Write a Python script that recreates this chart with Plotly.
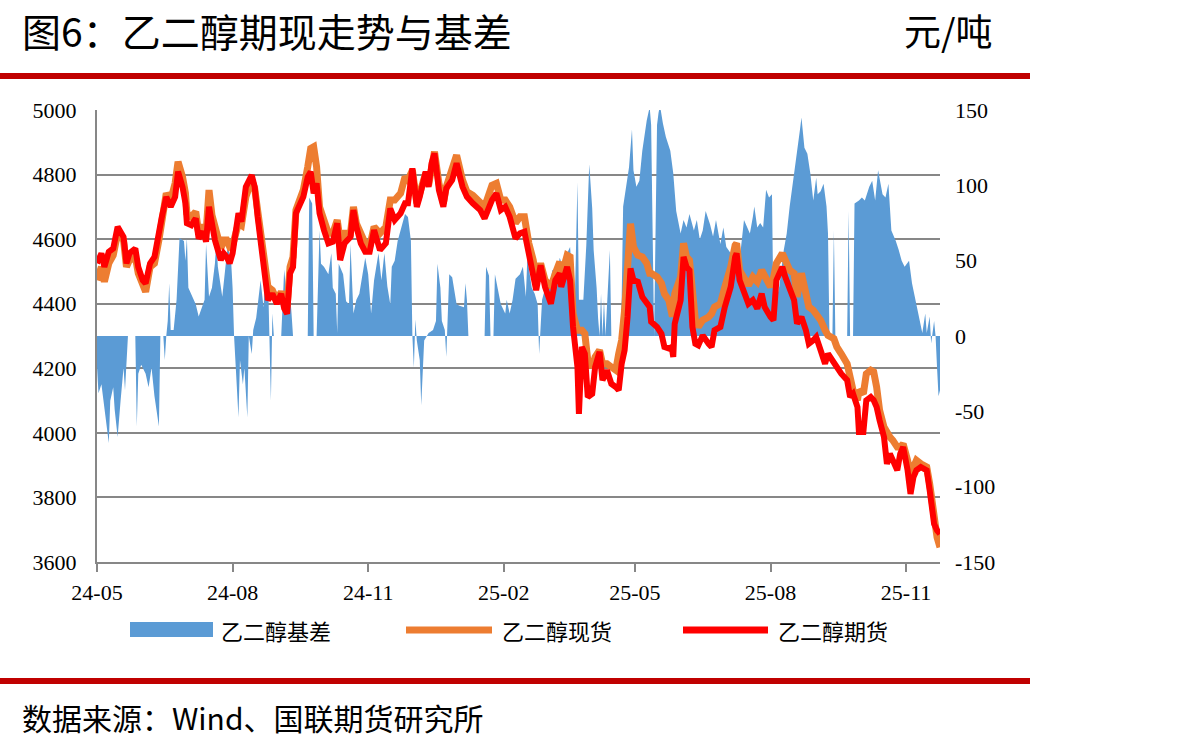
import plotly.graph_objects as go

# ---------------- data ----------------
line_dates = [
    "2024-05-06","2024-05-09","2024-05-11","2024-05-14","2024-05-17","2024-05-20","2024-05-24","2024-05-26","2024-05-28",
    "2024-06-01","2024-06-03","2024-06-06","2024-06-08","2024-06-11","2024-06-14","2024-06-17","2024-06-19","2024-06-22",
    "2024-06-25","2024-06-28","2024-06-30","2024-07-03","2024-07-05","2024-07-06","2024-07-09","2024-07-12","2024-07-14",
    "2024-07-17","2024-07-19","2024-07-21","2024-07-23","2024-07-25","2024-07-29","2024-07-31","2024-08-02","2024-08-04",
    "2024-08-06","2024-08-10","2024-08-12","2024-08-15","2024-08-19","2024-08-21","2024-08-23","2024-08-26","2024-08-28",
    "2024-08-30","2024-09-02","2024-09-05","2024-09-08","2024-09-10","2024-09-12","2024-09-14","2024-09-16","2024-09-18",
    "2024-09-23","2024-09-26","2024-09-28","2024-09-30","2024-10-02","2024-10-04","2024-10-07","2024-10-10","2024-10-13",
    "2024-10-16","2024-10-18","2024-10-21","2024-10-25","2024-10-27","2024-10-29","2024-11-01","2024-11-04","2024-11-07",
    "2024-11-10","2024-11-12","2024-11-14","2024-11-18","2024-11-21","2024-11-24","2024-11-28","2024-12-01","2024-12-03",
    "2024-12-06","2024-12-09","2024-12-11","2024-12-15","2024-12-17","2024-12-19","2024-12-21","2024-12-24","2024-12-27",
    "2024-12-29","2025-01-02","2025-01-05","2025-01-09","2025-01-12","2025-01-16","2025-01-21","2025-01-24","2025-01-29",
    "2025-02-01","2025-02-04","2025-02-07","2025-02-10","2025-02-14","2025-02-17","2025-02-20","2025-02-23","2025-02-26",
    "2025-02-28","2025-03-03","2025-03-06","2025-03-10","2025-03-13","2025-03-16","2025-03-17","2025-03-21","2025-03-23",
    "2025-03-25","2025-03-28","2025-03-29","2025-03-31","2025-04-02","2025-04-04","2025-04-07","2025-04-09","2025-04-12",
    "2025-04-14","2025-04-17","2025-04-20","2025-04-23","2025-04-25","2025-04-27","2025-04-29","2025-05-01","2025-05-02",
    "2025-05-03","2025-05-05","2025-05-08","2025-05-11","2025-05-14","2025-05-16","2025-05-17","2025-05-21","2025-05-24",
    "2025-05-26","2025-05-29","2025-05-31","2025-06-01","2025-06-02","2025-06-06","2025-06-08","2025-06-10","2025-06-12",
    "2025-06-14","2025-06-16","2025-06-18","2025-06-21","2025-06-25","2025-06-27","2025-06-29","2025-07-03","2025-07-06",
    "2025-07-10","2025-07-13","2025-07-14","2025-07-16","2025-07-19","2025-07-22","2025-07-25","2025-07-28","2025-07-31",
    "2025-08-02","2025-08-06","2025-08-08","2025-08-10","2025-08-14","2025-08-16","2025-08-19","2025-08-22","2025-08-24",
    "2025-08-27","2025-08-30","2025-09-01","2025-09-04","2025-09-06","2025-09-09","2025-09-12","2025-09-14","2025-09-18",
    "2025-09-20","2025-09-23","2025-09-27","2025-09-29","2025-10-01","2025-10-04","2025-10-05","2025-10-08","2025-10-10",
    "2025-10-13","2025-10-15","2025-10-17","2025-10-19","2025-10-22","2025-10-24","2025-10-26","2025-10-28","2025-10-31",
    "2025-11-02","2025-11-04","2025-11-07","2025-11-09","2025-11-11","2025-11-13","2025-11-16","2025-11-18","2025-11-20",
    "2025-11-22","2025-11-25","2025-11-27","2025-11-29",
]

futures = [
    4525,4556,4514,4561,4571,4638,4607,4525,4556,
    4571,4514,4473,4463,4525,4545,4628,4669,4731,
    4700,4731,4809,4762,4711,4649,4643,4664,4602,
    4623,4592,4700,4649,4597,4535,4556,4545,4525,
    4556,4680,4654,4762,4798,4762,4669,4556,4494,
    4411,4431,4400,4431,4385,4369,4494,4514,4680,
    4731,4793,4809,4742,4773,4680,4628,4587,4592,
    4649,4535,4587,4607,4690,4638,4587,4561,4561,
    4628,4597,4566,4587,4695,4659,4680,4711,4711,
    4819,4700,4731,4809,4762,4835,4866,4752,4700,
    4757,4783,4835,4762,4731,4711,4690,4664,4721,
    4742,4690,4700,4669,4602,4618,4623,4556,4494,
    4442,4519,4452,4400,4473,4494,4452,4514,4473,
    4328,4204,4059,4266,4245,4111,4121,4204,4251,
    4163,4194,4152,4142,4132,4214,4256,4359,4452,
    4509,4473,4468,4421,4400,4390,4344,4328,4307,
    4266,4261,4266,4235,4338,4411,4545,4514,4504,
    4328,4276,4271,4302,4276,4266,4318,4328,4390,
    4452,4545,4556,4473,4442,4400,4411,4385,4431,
    4390,4359,4349,4473,4514,4483,4452,4411,4338,
    4359,4318,4276,4287,4297,4256,4214,4245,4214,
    4204,4183,4163,4111,4121,4080,4003,4003,4101,
    4111,4101,4080,4039,3987,3904,3935,3915,3884,
    3935,3956,3884,3811,3863,3884,3894,3889,3884,
    3822,3718,3698,3687,
]

spot = [
    4473,4514,4468,4525,4550,4618,4597,4514,4535,
    4545,4494,4457,4437,4514,4525,4597,4664,4742,
    4721,4773,4840,4793,4742,4680,4669,4685,4618,
    4643,4618,4752,4674,4638,4571,4597,4597,4576,
    4581,4649,4643,4731,4783,4757,4680,4576,4514,
    4452,4442,4411,4437,4411,4390,4514,4545,4690,
    4752,4824,4881,4886,4824,4700,4649,4618,4618,
    4659,4597,4618,4618,4700,4649,4618,4587,4576,
    4638,4628,4618,4638,4721,4721,4742,4793,4783,
    4814,4711,4742,4804,4767,4840,4871,4773,4711,
    4762,4824,4860,4783,4747,4736,4711,4700,4767,
    4773,4721,4721,4700,4650,4669,4669,4587,4535,
    4468,4525,4473,4452,4494,4530,4483,4550,4545,
    4369,4318,4318,4318,4307,4225,4204,4235,4256,
    4214,4214,4204,4194,4245,4287,4380,4514,4638,
    4648,4576,4550,4545,4525,4494,4494,4483,4463,
    4431,4411,4369,4369,4431,4483,4587,4545,4535,
    4463,4349,4328,4349,4359,4369,4390,4400,4452,
    4514,4581,4587,4504,4483,4457,4483,4468,4504,
    4483,4452,4480,4525,4556,4535,4504,4494,4421,
    4494,4442,4390,4380,4369,4349,4318,4302,4292,
    4266,4245,4214,4173,4132,4101,4132,4121,4183,
    4194,4189,4142,4070,4018,3997,3987,3977,3956,
    3956,3966,3915,3873,3894,3915,3904,3899,3894,
    3842,3718,3677,3646,
]

basis_dates = [
    "2024-05-06","2024-05-07","2024-05-09","2024-05-11","2024-05-14","2024-05-15","2024-05-17","2024-05-18","2024-05-20",
    "2024-05-22","2024-05-24","2024-05-25","2024-05-26","2024-05-27","2024-06-01","2024-06-02","2024-06-03","2024-06-05",
    "2024-06-08","2024-06-10","2024-06-12","2024-06-14","2024-06-17","2024-06-18","2024-06-20","2024-06-21","2024-06-22",
    "2024-06-23","2024-06-24","2024-06-25","2024-06-27","2024-06-29","2024-07-01","2024-07-04","2024-07-05","2024-07-06",
    "2024-07-07","2024-07-09","2024-07-12","2024-07-14","2024-07-16","2024-07-18","2024-07-19","2024-07-21","2024-07-23",
    "2024-07-25","2024-07-26","2024-07-27","2024-07-30","2024-08-01","2024-08-02","2024-08-03","2024-08-04","2024-08-05",
    "2024-08-06","2024-08-07","2024-08-10","2024-08-11","2024-08-13","2024-08-14","2024-08-16","2024-08-17","2024-08-19",
    "2024-08-20","2024-08-22","2024-08-25","2024-08-27","2024-08-29","2024-08-30","2024-08-31","2024-09-01","2024-09-02",
    "2024-09-03","2024-09-08","2024-09-09","2024-09-10","2024-09-12","2024-09-14","2024-09-15","2024-09-16","2024-09-26",
    "2024-09-27","2024-09-29","2024-09-30","2024-10-02","2024-10-04","2024-10-05","2024-10-07","2024-10-10","2024-10-12",
    "2024-10-13","2024-10-15","2024-10-16","2024-10-17","2024-10-20","2024-10-22","2024-10-24","2024-10-25","2024-10-27",
    "2024-10-29","2024-10-31","2024-11-04","2024-11-06","2024-11-08","2024-11-10","2024-11-13","2024-11-15","2024-11-17",
    "2024-11-19","2024-11-21","2024-11-22","2024-11-24","2024-11-26","2024-11-29","2024-12-01","2024-12-03","2024-12-05",
    "2024-12-06","2024-12-07","2024-12-08","2024-12-09","2024-12-11","2024-12-12","2024-12-14","2024-12-17","2024-12-20",
    "2024-12-22","2024-12-23","2024-12-25","2024-12-26","2024-12-28","2024-12-29","2024-12-30","2024-12-31","2025-01-02",
    "2025-01-03","2025-01-05","2025-01-07","2025-01-10","2025-01-11","2025-01-12","2025-01-13","2025-01-24","2025-01-25",
    "2025-01-27","2025-01-28","2025-01-30","2025-01-31","2025-02-02","2025-02-04","2025-02-07","2025-02-08","2025-02-10",
    "2025-02-12","2025-02-14","2025-02-17","2025-02-19","2025-02-21","2025-02-22","2025-02-25","2025-02-27","2025-03-01",
    "2025-03-02","2025-03-03","2025-03-04","2025-03-07","2025-03-09","2025-03-11","2025-03-14","2025-03-16","2025-03-18",
    "2025-03-21","2025-03-23","2025-03-25","2025-03-26","2025-03-28","2025-03-29","2025-04-01","2025-04-03","2025-04-05",
    "2025-04-07","2025-04-08","2025-04-10","2025-04-11","2025-04-12","2025-04-13","2025-04-14","2025-04-15","2025-04-16",
    "2025-04-19","2025-04-20","2025-04-26","2025-04-27","2025-04-28","2025-04-30","2025-05-02","2025-05-04","2025-05-05",
    "2025-05-07","2025-05-09","2025-05-11","2025-05-14","2025-05-16","2025-05-17","2025-05-19","2025-05-21","2025-05-22",
    "2025-05-23","2025-05-25","2025-05-27","2025-05-30","2025-06-01","2025-06-03","2025-06-06","2025-06-08","2025-06-10",
    "2025-06-12","2025-06-15","2025-06-17","2025-06-19","2025-06-21","2025-06-23","2025-06-26","2025-06-28","2025-06-30",
    "2025-07-03","2025-07-05","2025-07-07","2025-07-10","2025-07-12","2025-07-14","2025-07-16","2025-07-19","2025-07-21",
    "2025-07-23","2025-07-25","2025-07-26","2025-07-28","2025-07-30","2025-08-01","2025-08-03","2025-08-05","2025-08-07",
    "2025-08-08","2025-08-10","2025-08-12","2025-08-15","2025-08-17","2025-08-19","2025-08-22","2025-08-24","2025-08-26",
    "2025-08-27","2025-08-29","2025-08-31","2025-09-02","2025-09-04","2025-09-06","2025-09-07","2025-09-09","2025-09-11",
    "2025-09-13","2025-09-14","2025-09-15","2025-09-17","2025-09-18","2025-09-19","2025-09-27","2025-09-28","2025-09-29",
    "2025-10-01","2025-10-02","2025-10-05","2025-10-07","2025-10-09","2025-10-12","2025-10-14","2025-10-16","2025-10-18",
    "2025-10-21","2025-10-23","2025-10-25","2025-10-27","2025-10-30","2025-11-01","2025-11-03","2025-11-05","2025-11-08",
    "2025-11-10","2025-11-12","2025-11-14","2025-11-17","2025-11-19","2025-11-20","2025-11-22","2025-11-23","2025-11-25",
    "2025-11-26","2025-11-27","2025-11-28","2025-11-29",
]

basis = [
    -20,-38,-32,-47,-71,-43,-34,-49,-67,
    -43,-21,-36,-12,0,0,-60,-25,-19,
    -25,-34,-21,-40,-60,0,0,-16,0,
    10,35,4,4,24,65,63,50,65,
    32,28,21,13,19,24,61,26,32,
    48,63,46,26,46,52,63,52,50,
    32,0,-54,-16,-32,-21,-54,0,-12,
    4,12,37,19,52,41,6,-43,15,
    0,0,19,44,24,28,15,0,0,
    92,88,0,0,70,48,46,41,55,
    32,28,2,48,41,23,21,61,15,
    24,28,52,41,15,37,55,37,55,
    33,21,46,50,63,75,81,79,63,
    0,-21,11,-3,-16,-46,-3,2,4,
    10,48,32,10,4,-14,10,41,39,
    33,21,20,19,35,24,0,0,46,
    40,0,0,41,30,21,15,24,15,
    24,38,41,46,26,52,32,28,21,
    -12,10,24,35,32,44,41,52,46,
    55,59,32,13,102,24,24,60,114,
    85,57,32,12,0,28,0,24,0,
    57,0,0,24,86,99,112,137,110,
    99,103,123,143,152,140,0,140,148,
    153,141,132,123,108,83,68,77,72,
    81,70,77,64,70,83,74,66,77,
    61,72,59,55,52,48,50,77,72,
    68,79,86,72,75,72,97,92,94,
    15,24,33,57,68,86,108,119,137,
    145,125,121,108,90,105,94,96,101,
    86,68,0,0,70,0,0,83,0,
    0,88,90,92,90,99,103,90,110,
    94,92,101,70,63,57,50,46,50,
    35,26,17,2,15,2,13,-5,10,
    0,-21,-40,-36,
]

tick_vals = ["2024-05-06", "2024-08-06", "2024-11-06", "2025-02-06",
             "2025-05-06", "2025-08-06", "2025-11-06"]
tick_text = ["24-05", "24-08", "24-11", "25-02", "25-05", "25-08", "25-11"]

price_ticks = [3600, 3800, 4000, 4200, 4400, 4600, 4800, 5000]
basis_ticks = [-150, -100, -50, 0, 50, 100, 150]
basis_tick_text = ["-150", "-100", "-50", "0", "50", "100", "150"]

# ---------------- layout helpers (pixel -> paper) ----------------
W, H = 1187, 747
L, R, T, B = 97, 940, 110, 562


def px(x):
    return (x - L) / (R - L)


def py(y):
    return (B - y) / (B - T)


CJK = "Noto Sans CJK SC"
SERIF = "Liberation Serif"
GRID = "#878787"

fig = go.Figure()
fig.add_trace(go.Scatter(
    x=basis_dates, y=basis, yaxis="y", mode="lines", fill="tozeroy",
    line=dict(width=0, color="#5B9BD5"), fillcolor="#5B9BD5",
    name="乙二醇基差", showlegend=False, hoverinfo="skip"))
fig.add_trace(go.Scatter(
    x=line_dates, y=spot, yaxis="y2", mode="lines",
    line=dict(width=7, color="#ED7D31"), name="乙二醇现货", showlegend=False))
fig.add_trace(go.Scatter(
    x=line_dates, y=futures, yaxis="y2", mode="lines",
    line=dict(width=6, color="#FF0000"), name="乙二醇期货", showlegend=False))

fig.update_layout(
    width=W, height=H,
    margin=dict(l=L, r=W - R, t=T, b=H - B, pad=0),
    paper_bgcolor="white", plot_bgcolor="white",
    xaxis=dict(
        type="date", range=["2024-05-06", "2025-11-29"],
        tickmode="array", tickvals=tick_vals, ticktext=tick_text,
        showgrid=False, zeroline=False,
        showline=True, linecolor=GRID, linewidth=2,
        ticks="outside", ticklen=8, tickwidth=2, tickcolor=GRID,
        tickfont=dict(family=SERIF, size=22, color="black"),
        ticklabelstandoff=2,
    ),
    yaxis=dict(
        side="right", range=[-150, 150], tickmode="array",
        tickvals=basis_ticks, ticktext=basis_tick_text,
        showgrid=False, zeroline=False, showline=False, ticks="",
        tickfont=dict(family=SERIF, size=22, color="black"),
        ticklabelstandoff=14,
    ),
    yaxis2=dict(
        side="left", overlaying="y", range=[3600, 5000], tickmode="array",
        tickvals=price_ticks,
        showgrid=True, gridcolor=GRID, gridwidth=2, zeroline=False,
        showline=True, linecolor=GRID, linewidth=2, ticks="",
        tickfont=dict(family=SERIF, size=22, color="black"),
        ticklabelstandoff=14,
    ),
)

shapes = [
    # red rules
    dict(type="line", xref="paper", yref="paper", x0=px(0), x1=px(1030), y0=py(76), y1=py(76),
         line=dict(color="#C00000", width=6)),
    dict(type="line", xref="paper", yref="paper", x0=px(0), x1=px(1030), y0=py(681), y1=py(681),
         line=dict(color="#C00000", width=6)),
    # legend keys
    dict(type="rect", xref="paper", yref="paper", x0=px(130), x1=px(213), y0=py(637), y1=py(622),
         fillcolor="#5B9BD5", line=dict(width=0)),
    dict(type="line", xref="paper", yref="paper", x0=px(406), x1=px(492), y0=py(630), y1=py(630),
         line=dict(color="#ED7D31", width=7)),
    dict(type="line", xref="paper", yref="paper", x0=px(683), x1=px(768), y0=py(630), y1=py(630),
         line=dict(color="#FF0000", width=7)),
]
fig.update_layout(shapes=shapes)

annotations = [
    dict(text="图6：乙二醇期现走势与基差", x=px(20), y=py(30), xanchor="left", yanchor="middle",
         font=dict(family=CJK, size=39, color="black")),
    dict(text="元/吨", x=px(995), y=py(30), xanchor="right", yanchor="middle",
         font=dict(family=CJK, size=37, color="black")),
    dict(text="乙二醇基差", x=px(219), y=py(630), xanchor="left", yanchor="middle",
         font=dict(family=CJK, size=22, color="black")),
    dict(text="乙二醇现货", x=px(500), y=py(630), xanchor="left", yanchor="middle",
         font=dict(family=CJK, size=22, color="black")),
    dict(text="乙二醇期货", x=px(776), y=py(630), xanchor="left", yanchor="middle",
         font=dict(family=CJK, size=22, color="black")),
    dict(text="数据来源：Wind、国联期货研究所", x=px(20), y=py(717), xanchor="left", yanchor="middle",
         font=dict(family=CJK, size=30, color="black")),
]
for a in annotations:
    a.update(xref="paper", yref="paper", showarrow=False)
fig.update_layout(annotations=annotations)

fig.write_html("out.html")
